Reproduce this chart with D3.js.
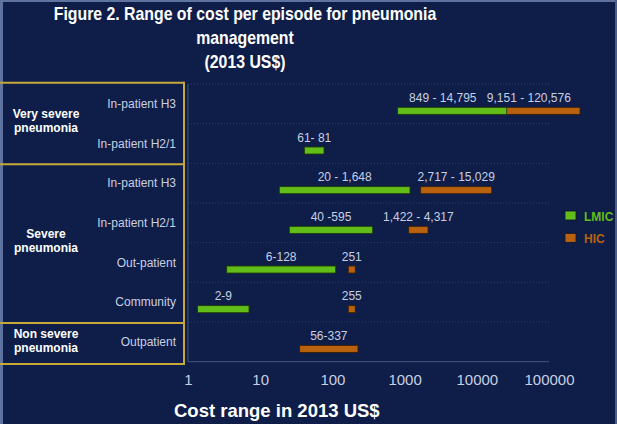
<!DOCTYPE html>
<html>
<head>
<meta charset="utf-8">
<script src="https://cdn.jsdelivr.net/npm/d3@7"></script>
<style>
  body { margin: 0; background: #0f1e48; }
  svg { display: block; font-family: "Liberation Sans", Arial, Helvetica, sans-serif; }
</style>
</head>
<body>
<svg id="chart"></svg>
<script>
// Data
const categories = ["In-patient H3", "In-patient H2/1", "In-patient H3", "In-patient H2/1", "Out-patient", "Community", "Outpatient"];
const groupNames = [["Very severe", "pneumonia"], ["Severe", "pneumonia"], ["Non severe", "pneumonia"]];
const groupSizes = [2, 4, 1];

// bar extents as drawn in the picture
const lmicLow  = [802,   41,   18.4, 25.3, 3.44, 1.36, null];
const lmicHigh = [25950, 76.5, 1188, 361,  111,  7.0,  null];
const hicLow   = [10290,  null, 1671,  1140, 166, 166, 35.2];
const hicHigh  = [269000, null, 16080, 2109, 207, 207, 226];

const lmicLabels = ["849 - 14,795", "61- 81", "20 - 1,648", "40 -595", "6-128", "2-9", null];
const hicLabels  = ["9,151 - 120,576", null, "2,717 - 15,029", "1,422 - 4,317", "251", "255", "56-337"];

const tickValues = [1, 10, 100, 1000, 10000, 100000];
const titleLines = ["Figure 2. Range of cost per episode for pneumonia", "management", "(2013 US$)"];

// Configuration
const W = 617, H = 424;
const plot = { left: 188, right: 549, top: 84, bottom: 361.7 };
const colors = { bg: "#0f1e48", lmic: "#62bd19", hic: "#b8620f", gold: "#c9a83a", label: "#c8cfe2" };

const svg = d3.select("#chart").attr("width", W).attr("height", H);

svg.append("rect").attr("width", W).attr("height", H).attr("fill", colors.bg);
// outer frame edges
svg.append("rect").attr("x", 0).attr("y", 0).attr("width", 3).attr("height", H).attr("fill", "#5f73a0");
svg.append("rect").attr("x", 0).attr("y", 0).attr("width", W).attr("height", 2).attr("fill", "#5f73a0");
svg.append("rect").attr("x", W - 2).attr("y", 0).attr("width", 2).attr("height", H).attr("fill", "#4c5f8c");

// Scales
const x = d3.scaleLog().domain([1, 100000]).range([plot.left, plot.right]);
const y = d3.scaleBand().domain(d3.range(categories.length)).range([plot.top, plot.bottom]);
const bw = y.bandwidth();
const barH = 7;
const barMid = i => y(i) + bw / 2 + 7;

// Title
const title = svg.append("g").attr("transform", "translate(245,0) scale(0.88,1)");
title.selectAll("text")
    .data(titleLines)
    .join("text")
    .attr("x", 0)
    .attr("y", (d, i) => 20.5 + i * 23.8)
    .attr("text-anchor", "middle")
    .attr("fill", "#fff")
    .attr("font-size", "18px")
    .attr("font-weight", "bold")
    .text(d => d);

// Grid lines at row boundaries
svg.append("g").selectAll("line")
    .data(d3.range(categories.length))
    .join("line")
    .attr("x1", plot.left).attr("x2", plot.right)
    .attr("y1", d => y(d)).attr("y2", d => y(d))
    .attr("stroke", "#2e3f6e")
    .attr("stroke-width", 1)
    .attr("stroke-dasharray", "1,2");

// Plot frame (left + bottom)
svg.append("line")
    .attr("x1", plot.left).attr("x2", plot.left)
    .attr("y1", plot.top).attr("y2", plot.bottom)
    .attr("stroke", "#44557f");
svg.append("line")
    .attr("x1", plot.left).attr("x2", plot.right)
    .attr("y1", plot.bottom).attr("y2", plot.bottom)
    .attr("stroke", "#44557f");

// Axis
const xAxisG = svg.append("g")
    .attr("transform", `translate(0,${plot.bottom})`)
    .call(d3.axisBottom(x).tickValues(tickValues).tickFormat(d3.format("d")).tickSize(0).tickPadding(13));
xAxisG.select(".domain").remove();
xAxisG.selectAll("text")
    .attr("fill", colors.label)
    .attr("font-size", "15px")
    .attr("font-family", "Liberation Sans, Arial, sans-serif");

svg.append("text")
    .attr("x", 174)
    .attr("y", 417)
    .attr("fill", "#fff")
    .attr("font-size", "18.5px")
    .attr("font-weight", "bold")
    .text("Cost range in 2013 US$");

// Category labels
svg.append("g").selectAll("text")
    .data(categories)
    .join("text")
    .attr("x", 176)
    .attr("y", (d, i) => y(i) + bw / 2 + 4)
    .attr("text-anchor", "end")
    .attr("fill", colors.label)
    .attr("font-size", "12px")
    .text(d => d);

// Group boxes
let start = 0;
groupSizes.forEach((n, g) => {
    const top = g === 0 ? y(start) - 1.3 : y(start) + 1;
    const end = start + n;
    const bottom = end === categories.length ? plot.bottom + 2.3 : y(end) + 1;
    svg.append("line")
        .attr("x1", 0).attr("x2", 184)
        .attr("y1", top).attr("y2", top)
        .attr("stroke", colors.gold).attr("stroke-width", 2);
    if (end === categories.length) {
        svg.append("line")
            .attr("x1", 0).attr("x2", 185)
            .attr("y1", bottom).attr("y2", bottom)
            .attr("stroke", colors.gold).attr("stroke-width", 2);
    }
    const mid = (top + bottom) / 2;
    svg.append("g").selectAll("text")
        .data(groupNames[g])
        .join("text")
        .attr("x", 46)
        .attr("y", (d, i) => mid - 3 + (i - 0.5) * 14.6 + 4.3)
        .attr("text-anchor", "middle")
        .attr("fill", "#fff")
        .attr("font-size", "12px")
        .attr("font-weight", "bold")
        .text(d => d);
    start = end;
});
svg.append("line")
    .attr("x1", 184).attr("x2", 184)
    .attr("y1", y(0) - 2.3).attr("y2", plot.bottom + 3.3)
    .attr("stroke", colors.gold).attr("stroke-width", 2);

// Bars
const rows = d3.range(categories.length);

const hicRows = rows.filter(i => hicLow[i] !== null);
svg.append("g").selectAll("rect")
    .data(hicRows)
    .join("rect")
    .attr("x", i => x(hicLow[i]))
    .attr("width", i => x(hicHigh[i]) - x(hicLow[i]))
    .attr("y", i => barMid(i) - barH / 2)
    .attr("height", barH)
    .attr("fill", colors.hic)
    .attr("stroke", "#3a1e05")
    .attr("stroke-width", 0.8);

const lmicRows = rows.filter(i => lmicLow[i] !== null);
svg.append("g").selectAll("rect")
    .data(lmicRows)
    .join("rect")
    .attr("x", i => x(lmicLow[i]))
    .attr("width", i => x(lmicHigh[i]) - x(lmicLow[i]))
    .attr("y", i => barMid(i) - barH / 2)
    .attr("height", barH)
    .attr("fill", colors.lmic)
    .attr("stroke", "#1d3a06")
    .attr("stroke-width", 0.8);

// Value labels, centred over each bar
const hicText = svg.append("g").selectAll("text")
    .data(rows.filter(i => hicLabels[i] !== null))
    .join("text")
    .attr("x", i => (x(hicLow[i]) + x(hicHigh[i])) / 2)
    .attr("y", i => barMid(i) - 9)
    .attr("text-anchor", "middle")
    .attr("fill", colors.label)
    .attr("font-size", "12px")
    .text(i => hicLabels[i]);

const lmicText = svg.append("g").selectAll("text")
    .data(rows.filter(i => lmicLabels[i] !== null))
    .join("text")
    .attr("x", i => (x(lmicLow[i]) + x(lmicHigh[i])) / 2)
    .attr("y", i => barMid(i) - 9)
    .attr("text-anchor", "middle")
    .attr("fill", colors.label)
    .attr("font-size", "12px")
    .text(i => lmicLabels[i]);

// push LMIC label left when it runs into the HIC label on the same row
lmicText.each(function (i) {
    if (hicLabels[i] === null) return;
    const other = hicText.filter(j => j === i).node();
    const a = this.getBBox(), b = other.getBBox();
    const overlap = a.x + a.width + 10 - b.x;
    if (overlap > 0) d3.select(this).attr("x", +d3.select(this).attr("x") - overlap);
});

// Legend
const legend = [["LMIC", colors.lmic], ["HIC", colors.hic]];
const lg = svg.append("g").selectAll("g")
    .data(legend)
    .join("g")
    .attr("transform", (d, i) => `translate(565,${211 + i * 22.3})`);
lg.append("rect")
    .attr("width", 11).attr("height", 9)
    .attr("fill", d => d[1])
    .attr("stroke", "#0a1430").attr("stroke-width", 0.8);
lg.append("text")
    .attr("x", 19).attr("y", 9.5)
    .attr("fill", d => d[1])
    .attr("font-size", "12px")
    .attr("font-weight", "bold")
    .text(d => d[0]);
</script>
</body>
</html>
